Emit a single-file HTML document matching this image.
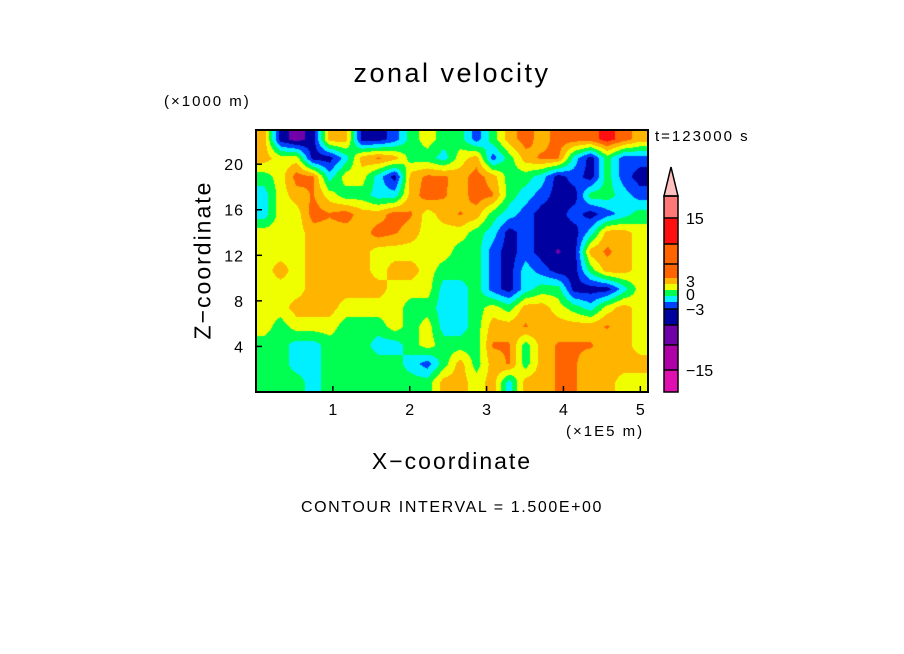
<!DOCTYPE html>
<html><head><meta charset="utf-8"><style>
body{margin:0;background:#fff;width:904px;height:654px;overflow:hidden;position:relative;font-family:"Liberation Sans",sans-serif;color:#000}
.t{position:absolute;white-space:nowrap}
</style></head><body>
<div class="t" style="left:0;width:904px;text-align:center;top:58px;font-size:27px;letter-spacing:2.5px">zonal velocity</div>
<div class="t" style="left:164px;top:93px;font-size:15px;letter-spacing:2px">(×1000 m)</div>
<div class="t" style="left:655px;top:128px;font-size:15px;letter-spacing:2px">t=123000 s</div>
<div class="t" style="left:566px;top:423px;font-size:15px;letter-spacing:2px">(×1E5 m)</div>
<div class="t" style="left:0;width:904px;text-align:center;top:448px;font-size:23px;letter-spacing:2px">X−coordinate</div>
<div class="t" style="left:203px;top:260px;font-size:23px;letter-spacing:2px;transform:translate(-50%,-50%) rotate(-90deg)">Z−coordinate</div>
<div class="t" style="left:0;width:904px;text-align:center;top:499px;font-size:16px;letter-spacing:1.6px">CONTOUR INTERVAL = 1.500E+00</div>
<canvas id="cv" width="392" height="262" style="position:absolute;left:256px;top:130px"></canvas>
<svg id="sv" width="904" height="654" style="position:absolute;left:0;top:0"></svg>
<script>
const levelColors=["#7000a8","#0000a0","#0040ff","#00f0ff","#00ff50","#f0ff00","#ffb400","#ff6400","#ff1010"]; // levels -4..4
const grid=[
[2,-3,-4,-3,2,2,-3,-3,-2,0,1,0,0,-2,0,2,3,2,3,3,3,4,3,2],
[2,1,1,-3,-3,-1,2,2.7,2,0,0,-1,1,2,-2,0,2,2.7,2.7,-1,-3,0,-2,-2],
[0,1,3,2.6,-1,1,1,-1,-3,2,2.7,2.7,2,3,2,0,0,-1,-3,-2,-3,0,-2,-3],
[-1,1,2,2.6,1,0,0,-1,-1,2,3,2.6,2,3,2.6,0,-1,-2,-3,-3,0,0,-1,-2],
[-1,1,1,3,2.6,3,2,2,3,2.6,1,2,2.6,2,0,-1,-2,-3,-3,-2,-3,-2,-1,0],
[1,1,1,2,2,2,2,3,2.6,2,1,1,1,0,-1,-3,-2,-3,-3,-3,-1,2,2,1],
[1,1,1,2,2,2,2,1,1,1,1,1,0,0,-2,-3,-2,-3,-3.6,-3,2,2.7,2,1],
[1,2,1,2,2,2,2,1,2,2,1,0,0,0,-2,-3,-1,-2,-3,-3,0,2,2,1],
[1,1,1,2,2,2,2,2,1,1,1,-1,-1,0,-2,-3,-1,0,0,-3,-3,-3,-1,1],
[1,1,2,2,2,1,1,1,1,0,0,-1,-1,0,1,0,2,2,1,0,-1,1,2,1],
[1,0,1,1,1,0,0,0,1,0,1,-1,-1,0,2,2,2.6,2,2,2,2,2.6,2,1],
[0,0,-1,-1,0,0,0,-1,-1,0,1,0,0,0,2.6,2.6,0,2,2.6,2.6,2.6,2,2,1],
[0,0,-1,-1,0,0,0,0,0,-1,-2,0,2,0,2,2.6,0,2,2.6,2.6,2,2,2,2],
[0,0,0,-1,0,0,0,0,0,0,0,2,2,1,2,-1,2,2,2.6,2.6,2,2,1,1]];
const xTicks=[1,2,3,4,5];
const zTicks=[4,8,12,16,20];
const cbLabels=["15","3","0","−3","−15"];
const cbLabelY=[218,281,294,309,370];
const cbColors=["#e010b0","#b000a8","#7000a8","#0000a0","#0040ff","#0040ff","#00f0ff","#00f0ff","#00ff50","#00ff50","#f0ff00","#f0ff00","#ffb400","#ffb400","#ff6400","#ff6400","#ff1010","#ff7878","#ffa0a0"];
const cbEdges=[392,370,345,325,309,305,302,299,296,293,290,287,284,281,278,264,244,218,196];

const PX0=256,PX1=648,PY0=130,PY1=392,XMAX=5.1,ZMAX=23;
const xs=v=>PX0+v/XMAX*(PX1-PX0), zs=v=>PY1-v/ZMAX*(PY1-PY0);
const cv=document.getElementById('cv'),ctx=cv.getContext('2d');
const W=cv.width,H=cv.height,R=grid.length,C=grid[0].length;
const img=ctx.createImageData(W,H);
const rgb=levelColors.map(h=>[parseInt(h.substr(1,2),16),parseInt(h.substr(3,2),16),parseInt(h.substr(5,2),16)]);
for(let y=0;y<H;y++){for(let x=0;x<W;x++){
 let gx=Math.min(Math.max((x+0.5)/W*C-0.5,0),C-1),gy=Math.min(Math.max((y+0.5)/H*R-0.5,0),R-1);
 let i=Math.min(Math.floor(gx),C-2),j=Math.min(Math.floor(gy),R-2),fx=gx-i,fy=gy-j;
 let v=grid[j][i]*(1-fx)*(1-fy)+grid[j][i+1]*fx*(1-fy)+grid[j+1][i]*(1-fx)*fy+grid[j+1][i+1]*fx*fy;
 let k=Math.max(-4,Math.min(4,Math.round(v)))+4,c=rgb[k],p=(y*W+x)*4;
 img.data[p]=c[0];img.data[p+1]=c[1];img.data[p+2]=c[2];img.data[p+3]=255;}}
ctx.putImageData(img,0,0);

const sv=document.getElementById('sv'),NS='http://www.w3.org/2000/svg';
function mk(t,a){const e=document.createElementNS(NS,t);for(const k in a)e.setAttribute(k,a[k]);sv.appendChild(e);return e;}
let fr=mk('rect',{x:PX0,y:PY0,width:PX1-PX0,height:PY1-PY0,fill:'none',stroke:'#000','stroke-width':2});


xTicks.forEach(v=>{const X=xs(v);
 let l=mk('line',{x1:X,x2:X,y1:PY1,y2:PY1-6,stroke:'#000','stroke-width':1.5});
 
 
 let t=mk('text',{x:X,y:PY1+23,'text-anchor':'middle','font-size':16,'font-family':'Liberation Sans'});t.textContent=v;
 
 });
zTicks.forEach(v=>{const Y=zs(v);
 let l=mk('line',{x1:PX0,x2:PX0+6,y1:Y,y2:Y,stroke:'#000','stroke-width':1.5});
 
 
 let t=mk('text',{x:PX0-12,y:Y+6,'text-anchor':'end','font-size':16,'font-family':'Liberation Sans','letter-spacing':1});t.textContent=v;
 
 });
for(let i=0;i<cbColors.length;i++){
 let r=mk('rect',{x:664,y:cbEdges[i+1]??cbEdges[i],width:14,height:(cbEdges[i]-(cbEdges[i+1]??196)),fill:cbColors[i]});
 
 }
let tri=mk('polygon',{points:'664,196 678,196 671,167',fill:'#ffc0c0',stroke:'#000','stroke-width':1.5});


let cbf=mk('rect',{x:664,y:196,width:14,height:196,fill:'none',stroke:'#000','stroke-width':1.5});


[264,244,218,309,325,345,370].forEach(y=>{let l=mk('line',{x1:664,x2:678,y1:y,y2:y,stroke:'#000','stroke-width':1.5});
 
 });
cbLabels.forEach((s,i)=>{let t=mk('text',{x:686,y:cbLabelY[i]+6,'font-size':16,'font-family':'Liberation Sans'});t.textContent=s;
 
 });
</script>
</body></html>
